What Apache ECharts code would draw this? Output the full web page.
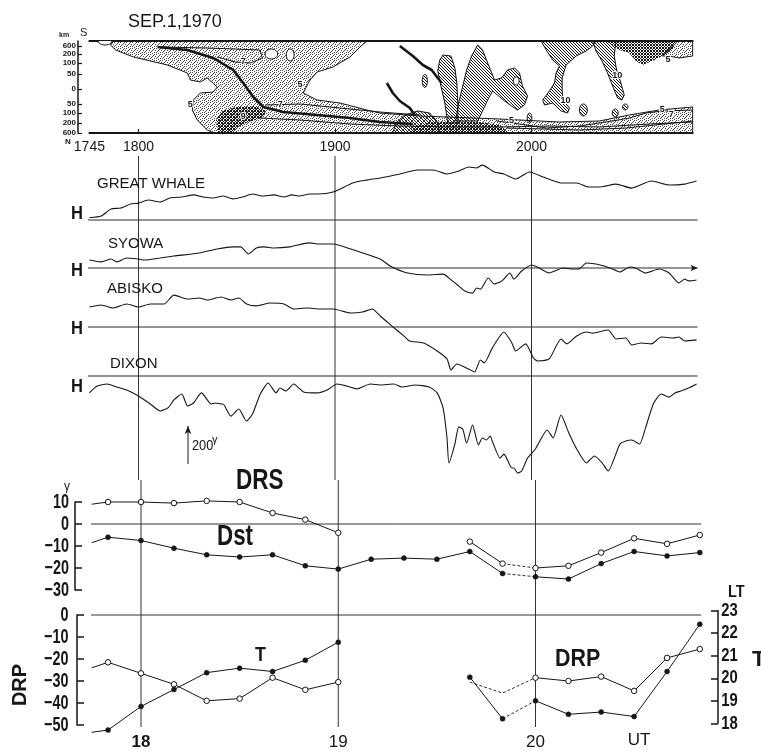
<!DOCTYPE html>
<html>
<head>
<meta charset="utf-8">
<title>SEP.1,1970</title>
<script src="https://cdn.jsdelivr.net/npm/echarts@6.0.0/dist/echarts.min.js"></script>
<style>
  html, body { margin: 0; padding: 0; background: #fff; }
  #chart { width: 761px; height: 751px; }
</style>
</head>
<body>
<div id="chart"></div>
<script>
// ---------- time axis (UT, hours) ----------
const X0 = 17.75;
const utHours = [18, 19, 20];
const mapTimeTicks = [17.75, 18, 19, 20];
const mapTimeLabels = ['1745', '1800', '1900', '2000'];

// ---------- auroral map: distance scale (km S / km N) ----------
const mapDistTickPos = [43, 35, 26, 15, 0, -15, -24, -34, -44];
const mapDistTickLabels = ['600', '200', '100', '50', '0', '50', '100', '200', '600'];

// light stipple (level 5 and above)
const mapStipple = [
  [[17.873,48],[19.162,48],[19.127,42],[19.076,32],[18.990,22],[18.909,17],[18.873,9],[18.838,-4],[18.909,-11],[19.025,-14],[19.162,-21],[19.228,-24],[19.431,-27],[19.838,-30],[20.142,-33],[20.345,-32],[20.497,-26],[20.650,-21],[20.82,-18],[20.82,-44],[18.381,-44],[18.350,-41],[18.299,-31],[18.274,-21],[18.279,-11],[18.315,-4],[18.381,-3],[18.401,2],[18.350,11],[18.315,7],[18.264,9],[18.249,16],[18.147,24],[17.975,32],[17.883,39],[17.858,44]],
  [[20.735,48],[20.82,48],[20.82,33],[20.751,31],[20.70,33],[20.667,33]]
];
// dense stipple (level 9)
const mapDense = [
  [[18.406,-44],[18.396,-31],[18.426,-22],[18.493,-18],[18.594,-17],[18.650,-22],[18.630,-29],[18.559,-33],[18.508,-38],[18.477,-44]],
  [[19.381,-44],[19.391,-38],[19.482,-33],[19.609,-32],[19.736,-33],[19.838,-36],[19.873,-42],[19.878,-44]],
  [[20.379,48],[20.735,48],[20.717,39],[20.667,33],[20.616,28],[20.565,24],[20.532,28],[20.497,36],[20.447,39]]
];
// hatched (level 10)
const mapHatch = [
  [[19.549,34],[19.590,33],[19.610,21],[19.620,6],[19.625,-14],[19.625,-34],[19.574,-34],[19.559,-14],[19.538,4],[19.523,18],[19.533,29]],
  [[19.726,44],[19.751,39],[19.777,26],[19.812,9],[19.848,11],[19.878,19],[19.914,21],[19.939,16],[19.954,3],[19.980,-7],[19.964,-16],[19.929,-21],[19.898,-17],[19.863,-12],[19.827,-6],[19.802,-2],[19.777,-11],[19.746,-24],[19.726,-32],[19.614,-32],[19.629,-14],[19.650,3],[19.670,19],[19.695,33]],
  [[19.294,-44],[19.310,-34],[19.355,-26],[19.421,-22],[19.482,-24],[19.518,-32],[19.533,-44]],
  [[20.049,48],[20.075,39],[20.108,29],[20.142,23],[20.125,16],[20.117,6],[20.091,-2],[20.057,-11],[20.066,-16],[20.108,-14],[20.151,-22],[20.184,-24],[20.193,-19],[20.159,-11],[20.156,-1],[20.156,11],[20.176,24],[20.227,33],[20.278,38],[20.311,43],[20.328,48]],
  [[20.311,48],[20.430,48],[20.421,33],[20.433,19],[20.455,6],[20.472,-6],[20.460,-11],[20.438,-9],[20.413,3],[20.387,16],[20.359,28],[20.328,38]]
];
// small closed contours: [time, distance, half-width (h), half-height]
const mapHatchOvals = [[19.457,8,0.013,6.5],[20.264,-21,0.02,6],[20.426,-24,0.015,4],[20.477,-18,0.014,3],[19.99,-29,0.012,5]];
const mapOpenOvals = [[18.676,35,0.032,5],[18.772,34,0.02,6],[19.922,8,0.015,4],[17.83,48,0.035,4]];
// bold arc lines
const mapBoldCurves = [
  [[18.097,42],[18.249,39],[18.381,31],[18.482,19],[18.533,6],[18.584,-8],[18.635,-18],[18.736,-23],[18.909,-26],[19.076,-29],[19.228,-33],[19.396,-35]],
  [[19.330,43],[19.396,33],[19.447,24],[19.492,19],[19.523,11],[19.543,6]],
  [[19.264,6],[19.294,-4],[19.330,-12],[19.381,-19],[19.406,-26]]
];
// thin contour lines
const mapContours = [
  [[18.112,42],[18.350,41],[18.619,39],[18.630,31],[18.569,26],[18.493,27],[18.401,32]],
  [[18.645,-16],[18.822,-15],[19.025,-19],[19.228,-23],[19.431,-26]],
  [[18.619,-29],[18.822,-31],[19.076,-35],[19.330,-37],[19.584,-38],[19.838,-38],[20.091,-37],[20.345,-38],[20.599,-35],[20.82,-33]],
  [[19.822,-32],[19.904,-34],[20.076,-39],[20.244,-37],[20.411,-32],[20.497,-29],[20.584,-24],[20.665,-22],[20.82,-21]],
  [[19.873,-39],[20.244,-41],[20.482,-39],[20.82,-32]]
];
const mapContourLabels = [[18.822,4,'5'],[18.264,-16,'5'],[18.533,27,'7'],[18.721,-16,'7'],[18.533,-28,'9'],[19.898,-32,'5'],[20.173,-12,'10'],[20.437,13,'10'],[20.695,29,'5'],[20.665,-21,'5'],[20.711,-26,'7']];

// ---------- magnetograms: H deviation from baseline [UT h, γ] ----------
const stationNames = ['GREAT WHALE', 'SYOWA', 'ABISKO', 'DIXON'];
const gwTrace = [[17.75,12],[17.81,21],[17.86,58],[17.91,63],[17.96,84],[18.00,89],[18.05,105],[18.11,95],[18.16,116],[18.22,121],[18.28,132],[18.33,121],[18.38,116],[18.43,126],[18.48,111],[18.53,121],[18.58,137],[18.63,126],[18.69,132],[18.74,121],[18.78,132],[18.82,126],[18.87,137],[18.91,137],[18.99,147],[19.09,195],[19.16,210],[19.23,221],[19.33,242],[19.42,263],[19.50,263],[19.57,242],[19.63,258],[19.68,279],[19.72,274],[19.75,289],[19.81,253],[19.86,242],[19.92,216],[19.99,253],[20.06,226],[20.10,210],[20.15,195],[20.23,195],[20.29,174],[20.35,174],[20.43,189],[20.51,168],[20.61,205],[20.70,184],[20.78,189],[20.84,205]];
const syTrace = [[17.75,42],[17.81,32],[17.86,47],[17.89,32],[17.94,53],[18.00,47],[18.03,42],[18.11,53],[18.18,63],[18.31,79],[18.40,100],[18.48,111],[18.52,111],[18.56,74],[18.60,105],[18.64,111],[18.69,105],[18.77,111],[18.87,132],[18.92,126],[18.99,126],[19.08,100],[19.23,47],[19.28,11],[19.37,-26],[19.47,-37],[19.55,-32],[19.58,-53],[19.63,-95],[19.66,-121],[19.70,-132],[19.72,-105],[19.74,-111],[19.78,-53],[19.81,-84],[19.85,-68],[19.89,-26],[19.91,-58],[19.95,-16],[20.00,16],[20.03,5],[20.09,-26],[20.16,0],[20.20,-5],[20.24,-5],[20.28,26],[20.35,16],[20.40,0],[20.45,-21],[20.50,5],[20.53,0],[20.58,-26],[20.65,-5],[20.70,-26],[20.75,-79],[20.78,-58],[20.80,-68],[20.84,-63]];
const abTrace = [[17.75,105],[17.81,116],[17.87,100],[17.94,121],[18.00,105],[18.06,121],[18.13,121],[18.18,168],[18.25,147],[18.31,153],[18.35,142],[18.42,158],[18.47,142],[18.51,153],[18.55,121],[18.60,111],[18.67,126],[18.74,121],[18.79,95],[18.86,100],[18.92,95],[18.99,95],[19.08,74],[19.14,79],[19.19,95],[19.23,58],[19.29,5],[19.35,-47],[19.38,-74],[19.45,-84],[19.52,-126],[19.57,-168],[19.59,-226],[19.62,-195],[19.68,-221],[19.71,-237],[19.74,-174],[19.76,-189],[19.80,-111],[19.86,-26],[19.90,-84],[19.92,-126],[19.97,-89],[20.01,-163],[20.03,-179],[20.09,-168],[20.15,-63],[20.18,-89],[20.23,-47],[20.28,-26],[20.31,-32],[20.39,-16],[20.43,-63],[20.48,-58],[20.51,-95],[20.56,-84],[20.61,-89],[20.66,-53],[20.72,-58],[20.75,-53],[20.78,-74],[20.84,-68]];
const dxTrace = [[17.75,-89],[17.79,-53],[17.84,-42],[17.89,-58],[17.94,-74],[18.00,-105],[18.06,-147],[18.11,-184],[18.15,-168],[18.18,-126],[18.22,-95],[18.25,-158],[18.28,-142],[18.32,-89],[18.37,-147],[18.39,-142],[18.42,-147],[18.43,-147],[18.47,-211],[18.51,-174],[18.55,-237],[18.58,-200],[18.62,-95],[18.66,-37],[18.70,-89],[18.72,-63],[18.75,-79],[18.79,-42],[18.84,-84],[18.91,-89],[18.96,-74],[19.01,-42],[19.06,-53],[19.11,-68],[19.18,-42],[19.23,-47],[19.30,-42],[19.34,-58],[19.41,-47],[19.48,-58],[19.52,-89],[19.55,-168],[19.57,-326],[19.58,-458],[19.61,-358],[19.63,-268],[19.65,-279],[19.67,-353],[19.70,-258],[19.73,-363],[19.75,-326],[19.77,-337],[19.79,-316],[19.80,-342],[19.84,-432],[19.86,-411],[19.90,-484],[19.91,-484],[19.93,-511],[19.95,-500],[19.98,-432],[20.02,-384],[20.08,-284],[20.11,-326],[20.15,-205],[20.19,-300],[20.23,-384],[20.28,-458],[20.32,-421],[20.36,-458],[20.39,-500],[20.45,-358],[20.48,-342],[20.51,-337],[20.55,-358],[20.58,-274],[20.62,-147],[20.66,-95],[20.70,-111],[20.73,-89],[20.76,-79],[20.80,-63],[20.84,-42]];
const scaleBarGamma = 200;

// ---------- DRS / Dst (γ), 10-min values ----------
const dstTimes = [17.75,17.833,18,18.167,18.333,18.5,18.667,18.833,19,19.167,19.333,19.5,19.667,19.833,20,20.167,20.333,20.5,20.667,20.833];
const dstValues = [-8.5,-6,-7.5,-11,-14,-15,-14,-19,-20.5,-16,-15.5,-16,-12.5,-22.5,-24,-25,-18,-12.5,-14.5,-13];
const drsTimesA = [17.75,17.833,18,18.167,18.333,18.5,18.667,18.833,19];
const drsValuesA = [9,10,10,9.5,10.5,10,5,2,-4];
const drsTimesB = [19.667,19.833,20,20.167,20.333,20.5,20.667,20.833];
const drsValuesB = [-8,-18,-20,-19,-13,-6.5,-9,-5];
const drsTicks = [10, 0, -10, -20, -30];

// ---------- DRP (γ) and T (LT, h) ----------
const drpTimesA = [17.75,17.833,18,18.167,18.333,18.5,18.667,18.833,19];
const drpValuesA = [-24,-21.5,-26.5,-31.5,-39,-38,-28.5,-34,-30.5];
const tValuesA = [17.6,17.7,18.75,19.5,20.25,20.45,20.3,20.8,21.6];
const drpTimesB = [19.667,19.833,20,20.167,20.333,20.5,20.667,20.833];
const drpValuesB = [-30.5,-35.5,-28.5,-30,-28,-34.5,-19.5,-15.5];
const tValuesB = [20.05,18.2,19.0,18.4,18.5,18.3,20.3,22.4];
const drpTicks = [0, -10, -20, -30, -40, -50];
const ltTicks = [23, 22, 21, 20, 19, 18];

// ---------- styling ----------
const INK = '#161616';
const SANS = '"Liberation Sans", Arial, Helvetica, sans-serif';
const UPPER = { pxAt18: 138.5, pxPerHour: 196.5 };   // map + magnetograms
const LOWER = { pxAt18: 141, pxPerHour: 197.25 };    // index panels
const gammaPerPx = 200 / 38;
const stationBasePx = [220, 268, 327, 376];

function makePattern(size, dots, color) {
  const c = document.createElement('canvas');
  c.width = c.height = size;
  const g = c.getContext('2d');
  g.fillStyle = color;
  dots.forEach(d => g.fillRect(d[0], d[1], 1, 1));
  return { image: c, repeat: 'repeat' };
}
const lightDots = makePattern(6, [[0,0],[3,1],[1,3],[4,4],[5,2],[2,5],[4,0],[0,4],[2,2]], '#4a4a4a');
const denseDots = makePattern(3, [[0,0],[1,1],[2,2],[2,0],[0,2]], '#151515');
const hatchFill = makePattern(3, [[0,0],[1,1],[2,2]], '#151515');

const grids = [], xAxes = [], yAxes = [];
function addPanel(map, xMax, top, height, yMin, yMax, xOpt, yOpt) {
  const i = grids.length;
  const left = map.pxAt18 - (18 - X0) * map.pxPerHour;
  grids.push({ left, top, width: (xMax - X0) * map.pxPerHour, height });
  xAxes.push(Object.assign({ type: 'value', gridIndex: i, min: X0, max: xMax, show: false, splitLine: { show: false } }, xOpt || {}));
  yAxes.push(Object.assign({ type: 'value', gridIndex: i, min: yMin, max: yMax, show: false, splitLine: { show: false } }, yOpt || {}));
  return i;
}

// map panel
const gMap = addPanel(UPPER, 20.82, 41, 92, -44, 48, {
  show: true,
  axisLine: { show: true, onZero: false, lineStyle: { color: INK, width: 2 } },
  axisTick: { show: true, inside: true, customValues: utHours, length: 4, lineStyle: { color: INK, width: 1.2 } },
  axisLabel: { show: true, customValues: mapTimeTicks, formatter: v => mapTimeLabels[mapTimeTicks.indexOf(v)],
               margin: 7, fontFamily: SANS, fontSize: 14, color: INK }
}, {
  show: true, offset: 11.4,
  axisLine: { show: true, onZero: false, lineStyle: { color: INK, width: 1.5 } },
  axisTick: { show: true, inside: true, customValues: mapDistTickPos, length: 4, lineStyle: { color: INK, width: 1.2 } },
  axisLabel: { show: true, customValues: mapDistTickPos, formatter: v => mapDistTickLabels[mapDistTickPos.indexOf(v)],
               hideOverlap: false, showMinLabel: true, showMaxLabel: true,
               margin: 2, fontFamily: SANS, fontSize: 8, lineHeight: 7, fontWeight: 'bold', color: INK }
});

// magnetogram panels
const gStations = stationBasePx.map(b =>
  addPanel(UPPER, 20.85, b - 70, 175, -105 * gammaPerPx, 70 * gammaPerPx));
const gUpperFrame = addPanel(UPPER, 20.85, 156, 324, 0, 1);

// DRS / Dst panel
const gDrs = addPanel(LOWER, 20.85, 502, 88, -30, 10, null, {
  show: true, interval: 10, offset: 16.7,
  axisLine: { show: true, onZero: false, lineStyle: { color: INK, width: 1.5 } },
  axisTick: { show: true, inside: true, length: 7, lineStyle: { color: INK, width: 1.5 } },
  axisLabel: { show: false }
});
// DRP panel
const gDrp = addPanel(LOWER, 20.85, 615, 111, -50, 0, {
  show: true,
  axisLine: { show: false, onZero: false }, axisTick: { show: false },
  axisLabel: { show: true, customValues: utHours, margin: 9,
    formatter: v => (v === 18 ? '{b|' + v + '}' : '{r|' + v + '}'),
    rich: { b: { fontFamily: SANS, fontWeight: 'bold', fontSize: 17, color: INK },
            r: { fontFamily: SANS, fontSize: 17, color: INK } } }
}, {
  show: true, interval: 10, offset: 14.7,
  axisLine: { show: true, onZero: false, lineStyle: { color: INK, width: 1.5 } },
  axisTick: { show: true, inside: true, length: 7, lineStyle: { color: INK, width: 1.5 } },
  axisLabel: { show: false }
});
// LT axis (right)
const gT = addPanel(LOWER, 20.85, 610.7, 112.6, 18, 23, null, {
  show: true, position: 'right', interval: 1, offset: 14.8,
  axisLine: { show: true, onZero: false, lineStyle: { color: INK, width: 1.5 } },
  axisTick: { show: true, inside: true, length: 7, lineStyle: { color: INK, width: 1.5 } },
  axisLabel: { show: false }
});
const gLowerFrame = addPanel(LOWER, 20.85, 480, 247, 0, 1);

// top frame line of the map (extra axis placed after the panel axes)
xAxes.push({ type: 'value', gridIndex: gMap, position: 'top', min: X0, max: 20.82,
  axisLine: { show: true, onZero: false, lineStyle: { color: INK, width: 2 } },
  axisTick: { show: false }, axisLabel: { show: false }, splitLine: { show: false } });

// ---------- series builders ----------
const series = [];
function polygons(shapes, fill, stroke, lw, z) {
  series.push({
    type: 'custom', xAxisIndex: gMap, yAxisIndex: gMap, z, silent: true, clip: true,
    data: shapes.map(s => s[0]),
    renderItem: (params, api) => ({
      type: 'polygon',
      shape: { points: shapes[params.dataIndex].map(p => api.coord(p)) },
      style: { fill, stroke, lineWidth: lw }
    })
  });
}
function ovals(list, fill, z) {
  series.push({
    type: 'custom', xAxisIndex: gMap, yAxisIndex: gMap, z, silent: true, clip: true,
    data: list.map(o => [o[0], o[1]]),
    renderItem: (params, api) => {
      const o = list[params.dataIndex];
      const c = api.coord([o[0], o[1]]);
      const e = api.coord([o[0] + o[2], o[1] + o[3]]);
      const rx = Math.abs(e[0] - c[0]), ry = Math.abs(e[1] - c[1]);
      const pts = [];
      for (let k = 0; k < 24; k++) {
        const a = k / 24 * Math.PI * 2;
        pts.push([c[0] + rx * Math.cos(a), c[1] + ry * Math.sin(a)]);
      }
      return { type: 'polygon', shape: { points: pts }, style: { fill, stroke: INK, lineWidth: 1 } };
    }
  });
}
function polyline(points, axis, width, z, extra) {
  series.push(Object.assign({
    type: 'line', xAxisIndex: axis, yAxisIndex: axis, data: points, symbol: 'none',
    lineStyle: { color: INK, width }, z, silent: true, clip: axis === gMap
  }, extra || {}));
}
function textLabels(axis, items, font, z) {
  series.push({
    type: 'custom', xAxisIndex: axis, yAxisIndex: axis, z, silent: true, clip: false,
    data: items.map(t => [t[0], t[1]]),
    renderItem: (params, api) => {
      const t = items[params.dataIndex];
      const p = api.coord([t[0], t[1]]);
      return { type: 'text', x: p[0], y: p[1],
        style: { text: t[2], font, fill: INK, stroke: '#fff', lineWidth: 2,
                 align: 'center', verticalAlign: 'middle' } };
    }
  });
}
// tick labels of the bracket axes, condensed
function tickLabels(axis, xAt, ticks, dx, align, fmt, font, sx) {
  series.push({
    type: 'custom', xAxisIndex: axis, yAxisIndex: axis, z: 10, silent: true, clip: false,
    data: ticks.map(v => [xAt, v]),
    renderItem: (params, api) => {
      const p = api.coord([api.value(0), api.value(1)]);
      return { type: 'text', x: p[0] + dx, y: p[1], scaleX: sx,
        style: { text: fmt(api.value(1)), font, fill: INK, align, verticalAlign: 'middle' } };
    }
  });
}
const signed = v => (v < 0 ? '\u2212' + Math.abs(v) : String(v));

function segment(axis, times, vals, i0, i1, opts) {
  const data = [];
  for (let i = i0; i <= i1; i++) {
    const item = { value: [times[i], vals[i]] };
    if (times[i] === X0) item.symbol = 'none';
    data.push(item);
  }
  series.push({
    type: 'line', xAxisIndex: axis, yAxisIndex: axis, data, clip: false, silent: true, z: 6,
    symbol: 'circle', showSymbol: !opts.dash, symbolSize: opts.open ? 5.5 : 5,
    itemStyle: opts.open ? { color: '#fff', borderColor: INK, borderWidth: 1 }
                         : { color: INK, borderColor: INK, borderWidth: 0.5 },
    lineStyle: { color: INK, width: opts.dash ? 0.9 : 1, type: opts.dash ? [3, 2] : 'solid' }
  });
}

// ---------- map ----------
polygons(mapStipple, lightDots, INK, 1, 2);
polygons(mapDense, denseDots, null, 0, 3);
polygons(mapHatch, hatchFill, INK, 1, 4);
ovals(mapHatchOvals, hatchFill, 5);
ovals(mapOpenOvals, '#fff', 5);
mapContours.forEach(c => polyline(c, gMap, 1, 5));
mapBoldCurves.forEach(c => polyline(c, gMap, 2.6, 6));
textLabels(gMap, mapContourLabels, 'bold 9px ' + SANS, 7);

// ---------- magnetograms ----------
const traces = [gwTrace, syTrace, abTrace, dxTrace];
gStations.forEach((g, k) => {
  const baseEnd = k === 1
    ? { value: [20.845, 0], symbol: 'arrow', symbolSize: [5, 7], symbolRotate: -90 }
    : [20.845, 0];
  polyline([[17.735, 0], baseEnd], g, 1.2, 3, { symbol: 'none', showSymbol: true, clip: false,
    itemStyle: { color: INK }, lineStyle: { color: '#2a2a2a', width: 1.2 } });
  polyline(traces[k], g, 1.1, 5, { smooth: 0.2, clip: false });
});
// scale bar
const gDixon = gStations[3];
polyline([[18.252, -463], { value: [18.252, -463 + scaleBarGamma], symbol: 'arrow', symbolSize: [5, 8] }],
  gDixon, 1, 5, { symbol: 'none', showSymbol: true, clip: false, itemStyle: { color: INK } });

// UT hour lines
utHours.forEach(h => {
  polyline([[h, 0], [h, 1]], gUpperFrame, 1, 1, { clip: false, lineStyle: { color: '#333', width: 1 } });
  polyline([[h, 0], [h, 1]], gLowerFrame, 1, 1, { clip: false, lineStyle: { color: '#333', width: 1 } });
});

// ---------- DRS / Dst ----------
polyline([[17.74, 0], [20.84, 0]], gDrs, 1, 2, { clip: false, lineStyle: { color: '#333', width: 1 } });
segment(gDrs, drsTimesA, drsValuesA, 0, 8, { open: true });
segment(gDrs, drsTimesB, drsValuesB, 0, 1, { open: true });
segment(gDrs, drsTimesB, drsValuesB, 1, 2, { open: true, dash: true });
segment(gDrs, drsTimesB, drsValuesB, 2, 7, { open: true });
segment(gDrs, dstTimes, dstValues, 0, 13, {});
segment(gDrs, dstTimes, dstValues, 13, 14, { dash: true });
segment(gDrs, dstTimes, dstValues, 14, 19, {});
tickLabels(gDrs, X0, drsTicks, -22.7, 'right', signed, 'bold 20px ' + SANS, 0.72);

// ---------- DRP / T ----------
polyline([[17.745, 0], [20.84, 0]], gDrp, 1, 2, { clip: false, lineStyle: { color: '#333', width: 1 } });
segment(gDrp, drpTimesA, drpValuesA, 0, 8, { open: true });
segment(gDrp, drpTimesB, drpValuesB, 0, 2, { open: true, dash: true });
segment(gDrp, drpTimesB, drpValuesB, 2, 7, { open: true });
segment(gT, drpTimesA, tValuesA, 0, 8, {});
segment(gT, drpTimesB, tValuesB, 0, 1, {});
segment(gT, drpTimesB, tValuesB, 1, 2, { dash: true });
segment(gT, drpTimesB, tValuesB, 2, 7, {});
tickLabels(gDrp, X0, drpTicks, -23.2, 'right', signed, 'bold 20px ' + SANS, 0.72);
tickLabels(gT, 20.85, ltTicks, 18, 'left', v => String(v), 'bold 19px ' + SANS, 0.78);

// ---------- free text ----------
function txt(x, y, text, font, o) {
  o = o || {};
  return { type: 'text', x, y, scaleX: o.sx || 1, rotation: o.rot || 0, silent: true, z: 20,
    style: { text, font, fill: INK, align: o.align || 'left', verticalAlign: 'middle',
             textAlign: o.align || 'left', textVerticalAlign: 'middle' } };
}
const stationNameLeft = [97, 108, 107, 110];
const stationNameY = [184, 244, 289, 364];
const hLabelY = [214.5, 271.5, 329, 387];
const graphics = [
  txt(128, 22, 'SEP.1,1970', '18px ' + SANS),
  txt(59, 35.5, 'km', 'bold 7px ' + SANS),
  txt(80, 33, 'S', '11px ' + SANS),
  txt(65, 141.5, 'N', 'bold 8px ' + SANS),
  txt(192, 446, '200', '15px ' + SANS, { sx: 0.85 }),
  txt(212, 440, '\u03b3', '11px ' + SANS),
  txt(236, 481, 'DRS', 'bold 30px ' + SANS, { sx: 0.75 }),
  txt(217, 537, 'Dst', 'bold 29px ' + SANS, { sx: 0.77 }),
  txt(64, 487, '\u03b3', '12px ' + SANS),
  txt(255, 655, 'T', 'bold 21px ' + SANS, { sx: 0.85 }),
  txt(555, 660, 'DRP', 'bold 23px ' + SANS, { sx: 0.93 }),
  txt(20, 685, 'DRP', 'bold 20px ' + SANS, { align: 'center', rot: Math.PI / 2 }),
  txt(728, 592, 'LT', 'bold 17px ' + SANS, { sx: 0.85 }),
  txt(752, 660, 'T', 'bold 22px ' + SANS),
  txt(639, 740, 'UT', '17px ' + SANS, { align: 'center' })
];
stationNames.forEach((n, k) => {
  graphics.push(txt(stationNameLeft[k], stationNameY[k], n, '15px ' + SANS));
  graphics.push(txt(71, hLabelY[k], 'H', 'bold 18px ' + SANS, { sx: 0.92 }));
});

const chart = echarts.init(document.getElementById('chart'), null, { renderer: 'canvas' });
chart.setOption({
  animation: false,
  backgroundColor: '#fff',
  grid: grids,
  xAxis: xAxes,
  yAxis: yAxes,
  series,
  graphic: { elements: graphics }
});
</script>
</body>
</html>
